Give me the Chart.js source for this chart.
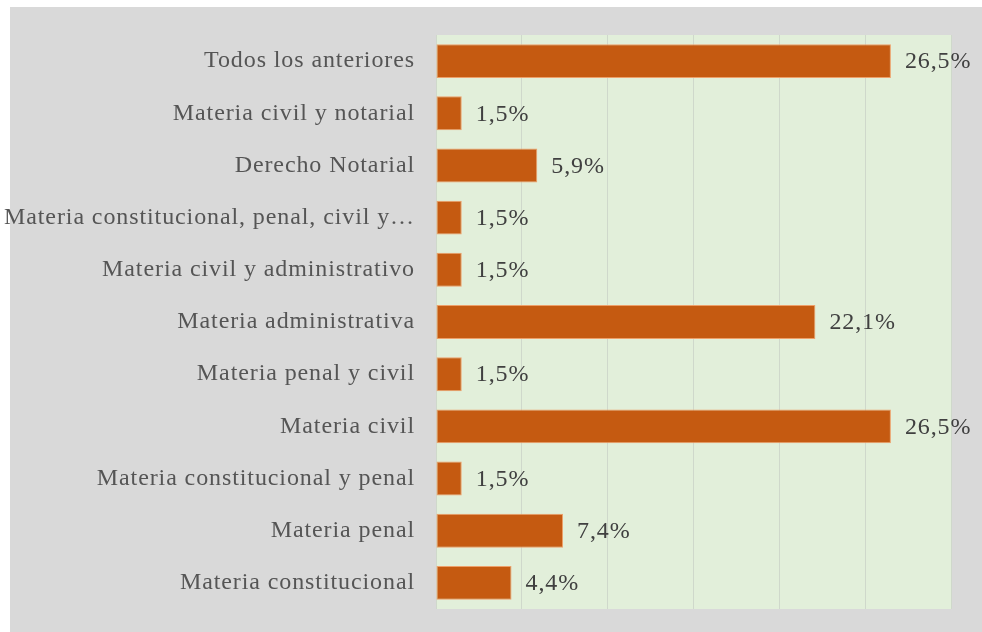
<!DOCTYPE html>
<html>
<head>
<meta charset="utf-8">
<script src="https://cdn.jsdelivr.net/npm/chart.js@4.4.1/dist/chart.umd.min.js"></script>
<style>
  html, body { margin: 0; padding: 0; background: #ffffff; }
  #wrap { position: relative; width: 982px; height: 632px; }
</style>
</head>
<body>
<div id="wrap"><canvas id="c" width="982" height="632"></canvas></div>
<script>
const categories = [
  "Todos los anteriores",
  "Materia civil y notarial",
  "Derecho Notarial",
  "Materia constitucional, penal, civil y\u2026",
  "Materia civil y administrativo",
  "Materia administrativa",
  "Materia penal y civil",
  "Materia civil",
  "Materia constitucional y penal",
  "Materia penal",
  "Materia constitucional"
];
const values = [26.5, 1.5, 5.9, 1.5, 1.5, 22.1, 1.5, 26.5, 1.5, 7.4, 4.4];
const xTicks = [0, 5, 10, 15, 20, 25, 30];

const FONT = "'Liberation Serif', 'Times New Roman', serif";

const bgPlugin = {
  id: 'bg',
  beforeDraw(chart) {
    const ctx = chart.ctx;
    ctx.letterSpacing = '0.9px';
    ctx.save();
    ctx.letterSpacing = '0px';
    ctx.fillStyle = '#ffffff';
    ctx.fillRect(0, 0, chart.width, chart.height);
    ctx.fillStyle = '#d9d9d9';
    ctx.fillRect(10, 7, chart.width - 10, chart.height - 7);
    const a = chart.chartArea;
    ctx.fillStyle = '#e2efda';
    ctx.fillRect(a.left, a.top, a.right - a.left + 1, a.bottom - a.top);
    ctx.restore();
  }
};

const labelPlugin = {
  id: 'vals',
  afterDatasetsDraw(chart) {
    const ctx = chart.ctx;
    const meta = chart.getDatasetMeta(0);
    ctx.save();
    ctx.letterSpacing = '0.9px';
    ctx.font = '24px ' + FONT;
    ctx.fillStyle = '#404040';
    ctx.textAlign = 'left';
    ctx.textBaseline = 'middle';
    meta.data.forEach((el, i) => {
      const txt = values[i].toFixed(1).replace('.', ',') + '%';
      ctx.fillText(txt, el.x + 14, el.y + 1);
    });
    ctx.restore();
  }
};

new Chart(document.getElementById('c'), {
  type: 'bar',
  data: {
    labels: categories,
    datasets: [{
      data: values,
      backgroundColor: '#c55a11',
      borderColor: '#eea06a',
      borderWidth: 1,
      borderSkipped: false,
      barPercentage: 0.65,
      categoryPercentage: 1.0
    }]
  },
  options: {
    indexAxis: 'y',
    responsive: false,
    animation: false,
    layout: { padding: { left: 0, right: 31, top: 35, bottom: 23 } },
    plugins: { legend: { display: false }, tooltip: { enabled: false } },
    scales: {
      x: {
        min: 0, max: 30,
        afterBuildTicks(scale) { scale.ticks = xTicks.map(v => ({ value: v })); },
        afterFit(scale) { scale.height = 0; scale.paddingLeft = 0; scale.paddingRight = 0; },
        ticks: { display: false },
        grid: { display: true, color: '#cfd8cb', lineWidth: 1, drawTicks: false },
        border: { display: false }
      },
      y: {
        afterFit(scale) { scale.width = 436; scale.paddingTop = 0; scale.paddingBottom = 0; },
        grid: { display: false, drawTicks: false },
        border: { display: false },
        ticks: {
          padding: 21,
          color: '#555555',
          font: { family: FONT, size: 24 },
          autoSkip: false
        }
      }
    }
  },
  plugins: [bgPlugin, labelPlugin]
});
</script>
</body>
</html>
